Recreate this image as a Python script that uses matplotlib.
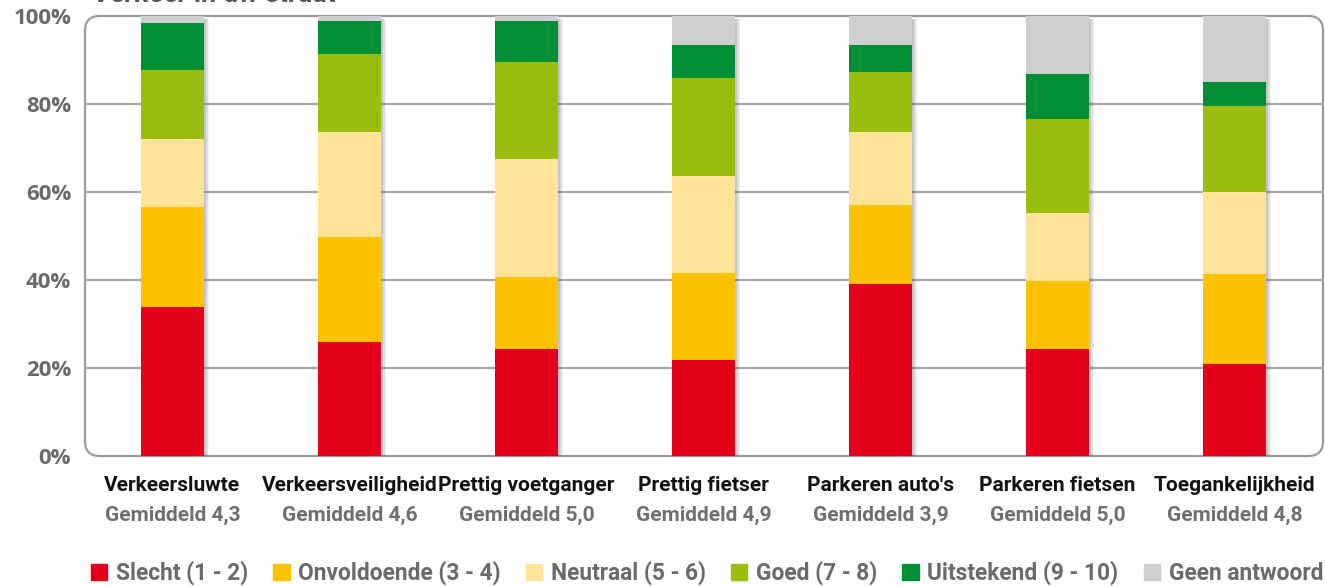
import matplotlib
matplotlib.use("Agg")
import matplotlib.pyplot as plt
from matplotlib import font_manager
from matplotlib.patches import FancyBboxPatch, Rectangle
import numpy as np

categories = ["Verkeersluwte", "Verkeersveiligheid", "Prettig voetganger", "Prettig fietser",
              "Parkeren auto's", "Parkeren fietsen", "Toegankelijkheid"]
averages = ["Gemiddeld 4,3", "Gemiddeld 4,6", "Gemiddeld 5,0", "Gemiddeld 4,9",
            "Gemiddeld 3,9", "Gemiddeld 5,0", "Gemiddeld 4,8"]
series_names = ["Slecht (1 - 2)", "Onvoldoende (3 - 4)", "Neutraal (5 - 6)",
                "Goed (7 - 8)", "Uitstekend (9 - 10)", "Geen antwoord"]
slecht      = [33.9, 25.8, 24.3, 21.8, 39.2, 24.3, 20.9]
onvoldoende = [22.7, 23.9, 16.4, 19.9, 17.9, 15.5, 20.4]
neutraal    = [15.4, 23.9, 26.8, 22.0, 16.5, 15.4, 18.8]
goed        = [15.8, 17.8, 22.0, 22.1, 13.7, 21.3, 19.4]
uitstekend  = [10.6, 7.5, 9.4, 7.6, 6.1, 10.3, 5.4]
geen        = [1.6, 1.1, 1.1, 6.6, 6.6, 13.2, 15.1]
colors = ["#e2001a", "#fcc200", "#ffe399", "#9abd0e", "#008f36", "#cdcfd1"]
yticks = [0, 20, 40, 60, 80, 100]
title = "Verkeer in uw straat"

available = {f.name for f in font_manager.fontManager.ttflist}
narrow = "Liberation Sans Narrow" if "Liberation Sans Narrow" in available else "Roboto"
narrow_fam = [narrow, "DejaVu Sans"]
tick_fam = ["Open Sans", "DejaVu Sans"]

fig = plt.figure(figsize=(13.25, 5.86), dpi=100)
ax = fig.add_axes([85/1325, 130/586, (1323-85)/1325, (456-16)/586])
ax.set_xlim(-0.494, 6.5)
ax.set_ylim(0, 100)
for s in ax.spines.values():
    s.set_visible(False)

# rounded frame
frame = FancyBboxPatch((0, 0), 1, 1, boxstyle="round,pad=0,rounding_size=0.012",
                       transform=ax.transAxes, fill=False, ec="#9a9a9a", lw=1.6,
                       zorder=1, clip_on=False, mutation_aspect=2.8)
ax.add_patch(frame)
for y in yticks[1:-1]:
    ax.axhline(y, color="#a8a8a8", lw=1.6, zorder=1)

x = np.arange(len(categories))
width = 0.356
data = [slecht, onvoldoende, neutraal, goed, uitstekend, geen]
totals = np.sum(np.array(data), axis=0)

# soft shadow
for dx, a in [(0.030, 0.08), (0.022, 0.12), (0.014, 0.18)]:
    ax.bar(x + dx, totals, width, bottom=-0.6, color="#555555", alpha=a, zorder=2, lw=0)

bottom = np.zeros(len(categories))
for vals, col, name in zip(data, colors, series_names):
    ax.bar(x, vals, width, bottom=bottom, color=col, zorder=3, lw=0, label=name)
    bottom += np.array(vals)

ax.set_xticks([])
ax.set_yticks(yticks)
ax.set_yticklabels([f"{v}%" for v in yticks], fontsize=16, fontweight="bold",
                   color="#6a6a6a", family=tick_fam)
ax.tick_params(axis="y", length=0, pad=10)

trans = ax.get_xaxis_transform()
for xi, cat, avg in zip(x, categories, averages):
    ax.text(xi, -0.068, cat, transform=trans, ha="center", va="center",
            fontsize=15, fontweight="bold", color="#111111", family=narrow_fam)
    ax.text(xi, -0.135, avg, transform=trans, ha="center", va="center",
            fontsize=15, fontweight="bold", color="#6f6f6f", family=narrow_fam)

fig.text(93/1325, 1.0 - 2/586, title, ha="left", va="baseline", fontsize=20,
         fontweight="bold", fontstyle="italic", color="#555555", family=narrow_fam)

handles = [Rectangle((0, 0), 1, 1, color=c) for c in colors]
leg = fig.legend(handles, series_names, loc="center", bbox_to_anchor=(707/1325, 1 - 573/586),
                 ncol=6, frameon=False, handlelength=0.72, handleheight=0.72,
                 handletextpad=0.38, columnspacing=1.1,
                 prop={"family": narrow_fam, "size": 16.4, "weight": "bold"})
for t in leg.get_texts():
    t.set_color("#6a6a6a")

fig.savefig("out.png", dpi=100)
